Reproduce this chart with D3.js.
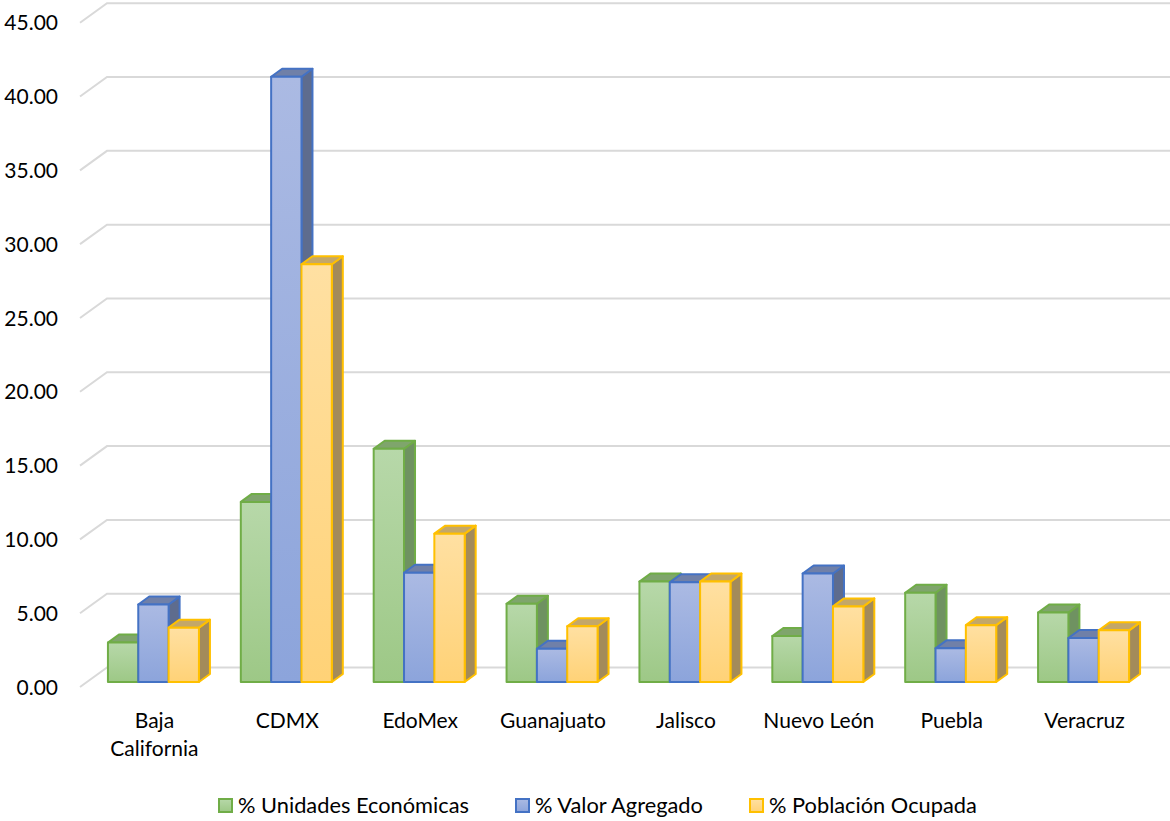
<!DOCTYPE html>
<html>
  <head>
    <meta charset="utf-8">
    <title>Unidades, valor agregado y población ocupada por estado</title>
    <script src="https://d3js.org/d3.v7.min.js"></script>
    <style>
      body { margin: 0; background: #fff; }
      text { font-family: Lato, "Open Sans", sans-serif; fill: #000; }
    </style>
  </head>
  <body>
    <svg width="1170" height="821"></svg>
    <script>
      // data
      var estados = ["Baja California", "CDMX", "EdoMex", "Guanajuato", "Jalisco", "Nuevo León", "Puebla", "Veracruz"];
      var unidades = [2.67, 12.2, 15.8, 5.3, 6.8, 3.12, 6.05, 4.7];
      var valor = [5.25, 41.0, 7.4, 2.25, 6.75, 7.35, 2.28, 2.98];
      var poblacion = [3.68, 28.3, 10.05, 3.78, 6.8, 5.12, 3.85, 3.5];
      var serieNombres = ["% Unidades Económicas", "% Valor Agregado", "% Población Ocupada"];
      var yTicks = [0, 5, 10, 15, 20, 25, 30, 35, 40, 45];

      var series = [unidades, valor, poblacion];
      var colores = [
        { line: "#70ad47", top: "#b7d8a9", bottom: "#9dc886", side: "#6f9261", cap: "#7fa56c" },
        { line: "#4472c4", top: "#abbae3", bottom: "#8ca4db", side: "#5e6c8e", cap: "#7080a8" },
        { line: "#ffc000", top: "#ffe0a2", bottom: "#ffd277", side: "#a38b5a", cap: "#c3a769" }
      ];

      var svg = d3.select("svg");
      var left = 80, right = 1143;
      var floorDx = 27, floorDy = 19.5;   // wall depth
      var barDx = 11, barDy = 8;          // bar depth
      var barShiftX = 7, barShiftY = 5;   // bars sit a bit behind the front edge

      var y = d3.scaleLinear().domain([0, 45]).range([687, 22.7]);
      var x0 = d3.scaleBand().domain(estados).range([left, right]);
      var x1 = d3.scaleBand().domain([0, 1, 2]).range([0, 91]);

      // gradients for front faces
      var defs = svg.append("defs");
      colores.forEach(function (c, i) {
        var g = defs.append("linearGradient").attr("id", "grad" + i)
          .attr("x1", 0).attr("y1", 0).attr("x2", 0).attr("y2", 1);
        g.append("stop").attr("offset", "0%").attr("stop-color", c.top);
        g.append("stop").attr("offset", "100%").attr("stop-color", c.bottom);
      });

      // gridlines: diagonal on the side wall + line on the back wall
      var grid = svg.append("g");
      yTicks.forEach(function (t) {
        var fy = y(t);
        grid.append("path")
          .attr("d", "M" + left + "," + fy + "L" + (left + floorDx) + "," + (fy - floorDy) + "L" + (right + floorDx) + "," + (fy - floorDy))
          .attr("fill", "none")
          .attr("stroke", "#d9d9d9")
          .attr("stroke-width", 2);
      });

      // y labels
      svg.append("g").selectAll("text")
        .data(yTicks).enter().append("text")
        .attr("x", 58)
        .attr("y", function (d) { return y(d); })
        .attr("dy", "0.36em")
        .attr("text-anchor", "end")
        .style("font-size", "21px")
        .text(function (d) { return d.toFixed(2); });

      // bars
      var bars = svg.append("g");
      estados.forEach(function (e, i) {
        series.forEach(function (s, j) {
          var c = colores[j];
          var bx = x0(e) + (x0.bandwidth() - 91) / 2 + x1(j) + barShiftX;
          var w = x1.bandwidth();
          var yb = y(0) - barShiftY;
          var yt = y(s[i]) - barShiftY;
          var g = bars.append("g")
            .attr("stroke", c.line)
            .attr("stroke-width", 2)
            .attr("stroke-linejoin", "round");
          g.append("path")
            .attr("d", "M" + (bx + w) + "," + yt + "L" + (bx + w + barDx) + "," + (yt - barDy) +
              "L" + (bx + w + barDx) + "," + (yb - barDy) + "L" + (bx + w) + "," + yb + "Z")
            .attr("fill", c.side);
          g.append("path")
            .attr("d", "M" + bx + "," + yt + "L" + (bx + barDx) + "," + (yt - barDy) +
              "L" + (bx + w + barDx) + "," + (yt - barDy) + "L" + (bx + w) + "," + yt + "Z")
            .attr("fill", c.cap);
          g.append("rect")
            .attr("x", bx).attr("y", yt)
            .attr("width", w).attr("height", yb - yt)
            .attr("fill", "url(#grad" + j + ")");
        });
      });

      // category labels
      var cat = svg.append("g").selectAll("text")
        .data(estados).enter().append("text")
        .attr("x", function (d) { return x0(d) + x0.bandwidth() / 2 + 8; })
        .attr("y", 728)
        .attr("text-anchor", "middle")
        .style("font-size", "21px");
      cat.each(function (d) {
        var t = d3.select(this);
        var parts = d === "Baja California" ? ["Baja", "California"] : [d];
        parts.forEach(function (p, k) {
          t.append("tspan").attr("x", t.attr("x")).attr("dy", k === 0 ? 0 : 28).text(p);
        });
      });

      // legend
      var legX = [218, 515, 749];
      var legend = svg.append("g");
      serieNombres.forEach(function (n, j) {
        legend.append("rect")
          .attr("x", legX[j] + 1).attr("y", 799)
          .attr("width", 13).attr("height", 13)
          .attr("fill", "url(#grad" + j + ")")
          .attr("stroke", colores[j].line)
          .attr("stroke-width", 2);
        legend.append("text")
          .attr("x", legX[j] + 20).attr("y", 805)
          .attr("dy", "0.36em")
          .style("font-size", "21.8px")
          .text(n);
      });
    </script>
  </body>
</html>
